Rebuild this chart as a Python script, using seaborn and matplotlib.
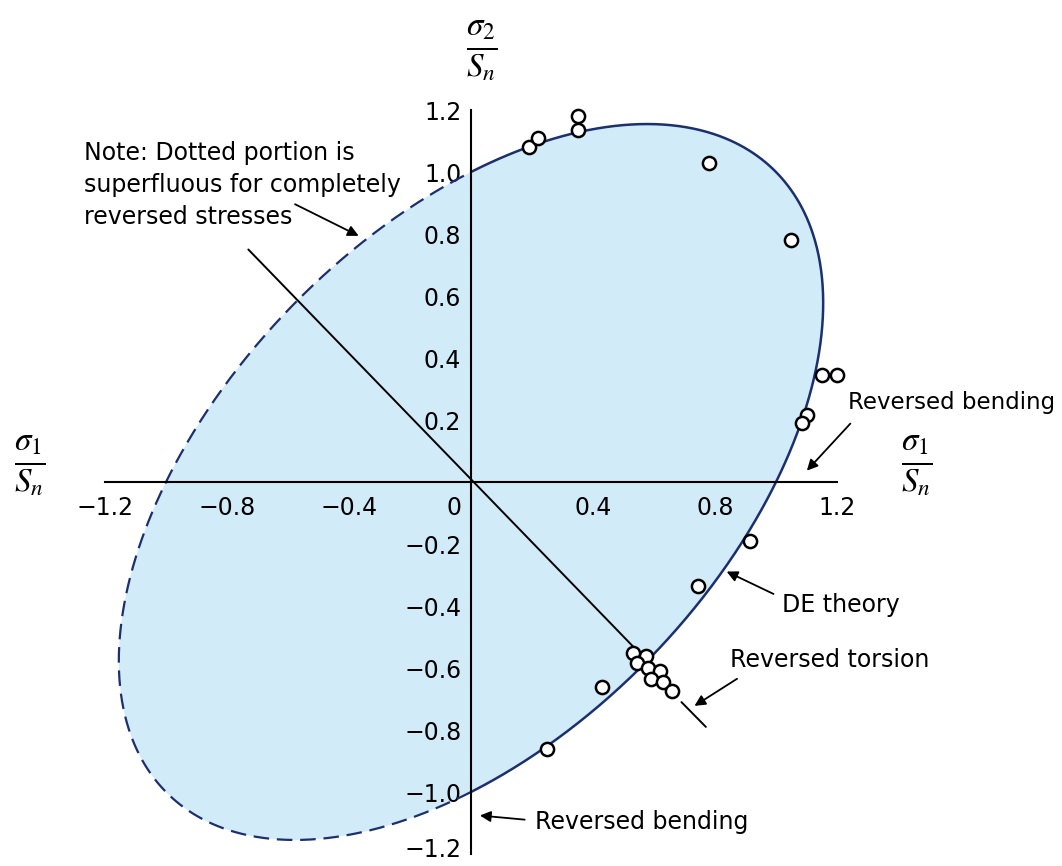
import numpy as np
import pandas as pd
import matplotlib.pyplot as plt
import matplotlib.transforms as mtransforms
import seaborn as sns

# Test points (sigma1/Sn, sigma2/Sn)
sigma1_pts = [0.19, 0.22, 0.35, 0.35, 0.78, 1.05, 1.15, 1.20, 1.10, 1.085,
              0.915, 0.745, 0.53, 0.575, 0.545, 0.58, 0.62, 0.59, 0.63, 0.66,
              0.43, 0.25]
sigma2_pts = [1.08, 1.11, 1.18, 1.135, 1.03, 0.78, 0.345, 0.345, 0.215, 0.19,
              -0.19, -0.335, -0.55, -0.56, -0.585, -0.60, -0.61, -0.635, -0.645, -0.675,
              -0.66, -0.86]

x_ticks = [-1.2, -1.0, -0.8, -0.6, -0.4, -0.2, 0.0, 0.2, 0.4, 0.6, 0.8, 1.0, 1.2]
x_labels = ['−1.2', '', '−0.8', '', '−0.4', '', '', '', '0.4', '', '0.8', '', '1.2']
y_ticks = [-1.2, -1.0, -0.8, -0.6, -0.4, -0.2, 0.0, 0.2, 0.4, 0.6, 0.8, 1.0, 1.2]
y_labels = ['−1.2', '−1.0', '−0.8', '−0.6', '−0.4', '−0.2', '', '0.2', '0.4', '0.6',
            '0.8', '1.0', '1.2']

line_color = '#1c2f6e'
fill_color = '#d2ebf9'

sns.set_style('white')
plt.rcParams['font.family'] = ['DejaVu Sans']
plt.rcParams['mathtext.fontset'] = 'stix'
plt.rcParams['text.color'] = 'black'

fig = plt.figure(figsize=(10.62, 8.66), dpi=100)
ax = fig.add_axes([0, 0, 1, 1])
ax.set_xlim(-471 / 305, (1062 - 471) / 305)
ax.set_ylim((482 - 866) / 310, 482 / 310)

# DE (distortion energy) ellipse: s1^2 - s1*s2 + s2^2 = 1
smax = 2 / np.sqrt(3)
s = smax * np.sin(np.linspace(0, np.pi / 2, 300))
root = np.sqrt(np.clip(4 - 3 * s ** 2, 0, None))
solid = pd.DataFrame({'s1': np.concatenate([s, s[::-1]]),
                      's2': np.concatenate([(s + root) / 2, ((s - root) / 2)[::-1]])})
dashed = pd.DataFrame({'s1': -solid.s1, 's2': -solid.s2})

ax.fill(np.concatenate([solid.s1, dashed.s1]),
        np.concatenate([solid.s2, dashed.s2]), color=fill_color, lw=0, zorder=0)
sns.lineplot(data=solid, x='s1', y='s2', sort=False, estimator=None, color=line_color,
             lw=1.8, ax=ax, zorder=3)
sns.lineplot(data=dashed, x='s1', y='s2', sort=False, estimator=None, color=line_color,
             lw=1.6, linestyle=(0, (7, 3.5)), ax=ax, zorder=3)

# reversed torsion line s2 = -s1
ax.plot([-0.73, 0.58], [0.75, -0.58], color='black', lw=1.4, zorder=2)

# axes through origin
for side in ['top', 'right']:
    ax.spines[side].set_visible(False)
ax.spines['left'].set_position(('data', 0))
ax.spines['bottom'].set_position(('data', 0))
ax.spines['left'].set_bounds(-1.2, 1.2)
ax.spines['bottom'].set_bounds(-1.2, 1.2)
for side in ['left', 'bottom']:
    ax.spines[side].set_color('black')
    ax.spines[side].set_linewidth(1.5)
    ax.spines[side].set_zorder(4)
ax.set_xticks(x_ticks)
ax.set_xticklabels(x_labels)
ax.set_yticks(y_ticks)
ax.set_yticklabels(y_labels)
ax.tick_params(axis='x', direction='in', length=16, width=1.4, labelsize=17, pad=10,
               colors='black')
ax.tick_params(axis='y', direction='in', length=18, width=1.4, labelsize=17, pad=7,
               colors='black')
ax.set_xlabel('')
ax.set_ylabel('')
ax.text(-0.03, -0.085, '0', fontsize=17, ha='right', va='center')

# lift the bottom tick label a little so it stays inside the image
bottom_lbl = ax.get_yticklabels()[0]
bottom_lbl.set_transform(bottom_lbl.get_transform() +
                         mtransforms.ScaledTranslation(0, 5 / 72, fig.dpi_scale_trans))

sns.scatterplot(x=sigma1_pts, y=sigma2_pts, marker='o', s=90, facecolor='white',
                edgecolor='black', linewidth=1.8, ax=ax, zorder=5)

# axis fraction labels
frac1 = r'$\frac{\sigma_1}{S_n}$'
frac2 = r'$\frac{\sigma_2}{S_n}$'
ax.text(-1.445, 0.05, frac1, fontsize=34, ha='center', va='center')
ax.text(1.46, 0.05, frac1, fontsize=34, ha='center', va='center')
ax.text(0.035, 1.39, frac2, fontsize=34, ha='center', va='center')

arrow = dict(arrowstyle='-|>', color='black', lw=1.3, mutation_scale=16)
ax.text(-1.27, 0.958, 'Note: Dotted portion is\nsuperfluous for completely\nreversed stresses',
        fontsize=17, ha='left', va='center', linespacing=1.4)
ax.annotate('', xy=(-0.36, 0.79), xytext=(-0.585, 0.9), arrowprops=arrow)
ax.text(1.235, 0.255, 'Reversed bending', fontsize=16.5, ha='left', va='center')
ax.annotate('', xy=(1.095, 0.03), xytext=(1.25, 0.195), arrowprops=arrow)
ax.text(1.02, -0.397, 'DE theory', fontsize=17, ha='left', va='center')
ax.annotate('', xy=(0.83, -0.285), xytext=(1.0, -0.365), arrowprops=arrow)
ax.text(0.85, -0.574, 'Reversed torsion', fontsize=17, ha='left', va='center')
ax.plot([0.69, 0.77], [-0.71, -0.79], color='black', lw=1.4)
ax.annotate('', xy=(0.725, -0.727), xytext=(0.88, -0.63), arrowprops=arrow)
ax.text(0.21, -1.097, 'Reversed bending', fontsize=17, ha='left', va='center')
ax.annotate('', xy=(0.02, -1.075), xytext=(0.185, -1.09), arrowprops=arrow)

fig.savefig('out.png', dpi=100)
